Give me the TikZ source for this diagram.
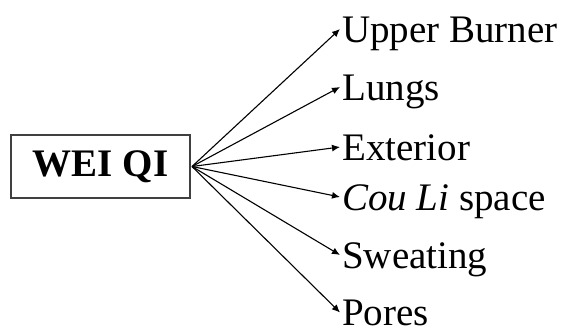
\documentclass[tikz,border=0pt]{standalone}
\usepackage{fontspec}
\setmainfont{Liberation Serif}
\usetikzlibrary{calc,arrows.meta}
\begin{document}
\begin{tikzpicture}[x=1pt,y=-1pt,
  lbl/.style={anchor=base west,inner sep=0pt,font=\fontsize{39}{44}\selectfont},
  arr/.style={line width=1.1pt,-{Latex[length=8pt,width=7pt]}},
  box/.style={draw=black!75,line width=1.2pt,minimum width=179pt,minimum height=63pt,inner sep=0pt,font=\fontsize{39}{44}\selectfont\bfseries}]
\useasboundingbox (0,0) rectangle (562,333);
\node[box] (wq) at (100.5,166.5) {WEI QI};
\coordinate (o) at (192,166.5);
\node[lbl] (l1) at (342,42) {Upper Burner};
\node[lbl] (l2) at (342,100) {Lungs};
\node[lbl] (l3) at (342,160) {Exterior};
\node[lbl] (l4) at (342,210) {\textit{Cou Li} space};
\node[lbl] (l5) at (342,268) {Sweating};
\node[lbl] (l6) at (342,325.5) {Pores};
\foreach \i in {1,...,6}{
  \draw[arr] (o) -- ($(l\i.base west)+(-2,-13)$);
}
\end{tikzpicture}
\end{document}
